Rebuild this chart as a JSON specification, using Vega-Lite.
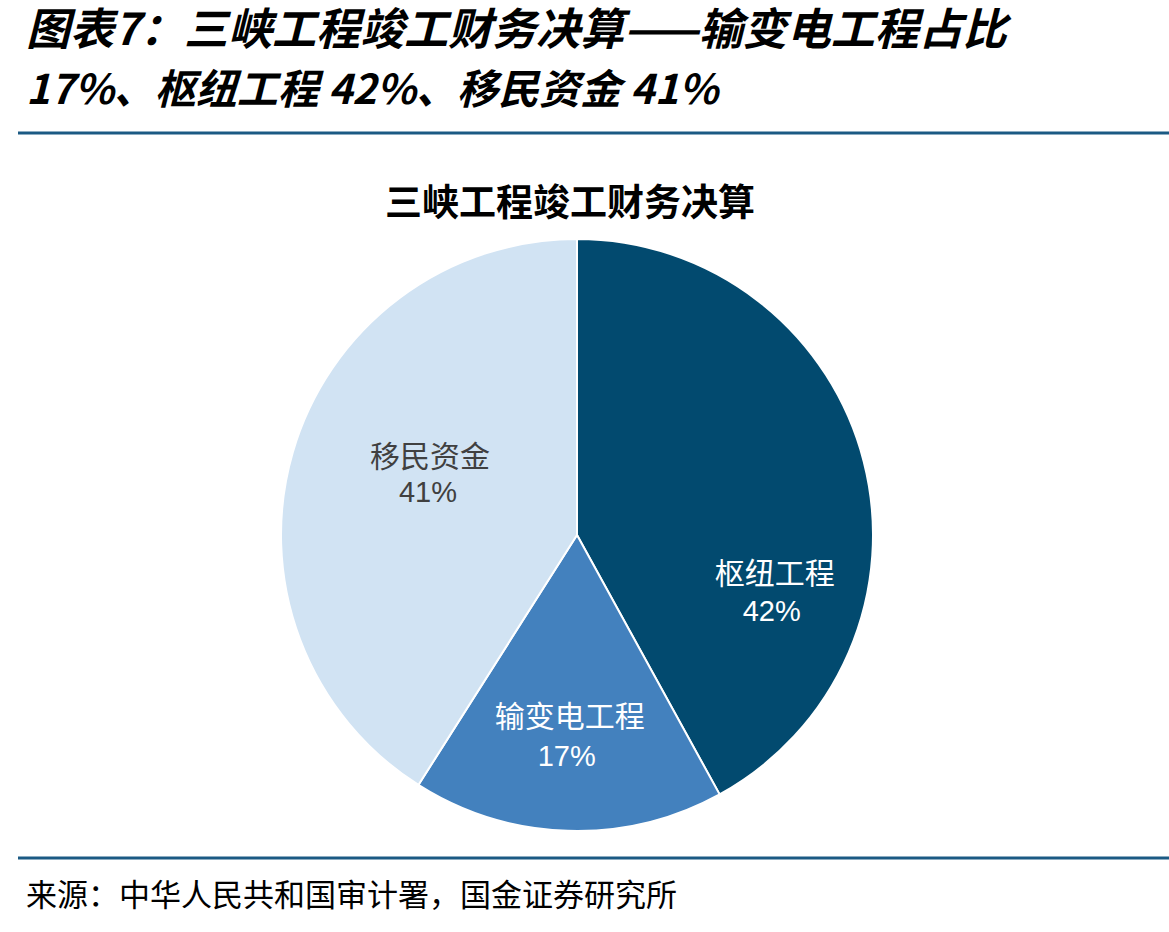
{
  "$schema": "https://vega.github.io/schema/vega-lite/v6.json",
  "autosize": "none",
  "width": 1154,
  "height": 794,
  "padding": {"left": 0, "right": 15, "top": 138, "bottom": 0},
  "background": "white",
  "config": {"view": {"stroke": null}},
  "data": {"values": [
    {"name": "枢纽工程", "value": 42, "pct": "42%", "rank": 1},
    {"name": "输变电工程", "value": 17, "pct": "17%", "rank": 2},
    {"name": "移民资金", "value": 41, "pct": "41%", "rank": 3}
  ]},
  "layer": [
    {
      "mark": {"type": "arc", "outerRadius": 296, "stroke": "white", "strokeWidth": 2},
      "encoding": {
        "theta": {"field": "value", "type": "quantitative", "stack": true},
        "order": {"field": "rank", "type": "quantitative"},
        "color": {"field": "name", "type": "nominal", "legend": null,
          "scale": {"domain": ["枢纽工程", "输变电工程", "移民资金"], "range": ["#024A6F", "#4381BE", "#D1E3F3"]}}
      }
    },
    {
      "mark": {"type": "text", "radius": 200, "font": "Noto Sans CJK SC", "fontSize": 30, "dx": 4, "dy": 90, "color": "white"},
      "encoding": {
        "theta": {"field": "value", "type": "quantitative", "stack": true},
        "order": {"field": "rank", "type": "quantitative"},
        "text": {"condition": {"test": "datum.name === '枢纽工程'", "field": "name", "type": "nominal"}, "value": ""}
      }
    },
    {
      "mark": {"type": "text", "radius": 200, "font": "Liberation Sans", "fontSize": 29, "dx": 1, "dy": 127, "color": "white"},
      "encoding": {
        "theta": {"field": "value", "type": "quantitative", "stack": true},
        "order": {"field": "rank", "type": "quantitative"},
        "text": {"condition": {"test": "datum.name === '枢纽工程'", "field": "pct", "type": "nominal"}, "value": ""}
      }
    },
    {
      "mark": {"type": "text", "radius": 200, "font": "Noto Sans CJK SC", "fontSize": 30, "dx": -1, "dy": -17, "color": "white"},
      "encoding": {
        "theta": {"field": "value", "type": "quantitative", "stack": true},
        "order": {"field": "rank", "type": "quantitative"},
        "text": {"condition": {"test": "datum.name === '输变电工程'", "field": "name", "type": "nominal"}, "value": ""}
      }
    },
    {
      "mark": {"type": "text", "radius": 200, "font": "Liberation Sans", "fontSize": 29, "dx": -4, "dy": 22, "color": "white"},
      "encoding": {
        "theta": {"field": "value", "type": "quantitative", "stack": true},
        "order": {"field": "rank", "type": "quantitative"},
        "text": {"condition": {"test": "datum.name === '输变电工程'", "field": "pct", "type": "nominal"}, "value": ""}
      }
    },
    {
      "mark": {"type": "text", "radius": 200, "font": "Noto Sans CJK SC", "fontSize": 30, "dx": 45, "dy": -21, "color": "#404040"},
      "encoding": {
        "theta": {"field": "value", "type": "quantitative", "stack": true},
        "order": {"field": "rank", "type": "quantitative"},
        "text": {"condition": {"test": "datum.name === '移民资金'", "field": "name", "type": "nominal"}, "value": ""}
      }
    },
    {
      "mark": {"type": "text", "radius": 200, "font": "Liberation Sans", "fontSize": 29, "dx": 43, "dy": 14, "color": "#404040"},
      "encoding": {
        "theta": {"field": "value", "type": "quantitative", "stack": true},
        "order": {"field": "rank", "type": "quantitative"},
        "text": {"condition": {"test": "datum.name === '移民资金'", "field": "pct", "type": "nominal"}, "value": ""}
      }
    },
    {
      "data": {"values": [{}]},
      "mark": {"type": "text", "font": "Noto Sans CJK SC", "fontSize": 44, "fontWeight": "bold", "fontStyle": "italic", "align": "left", "baseline": "middle", "color": "black"},
      "encoding": {
        "x": {"datum": 26, "type": "quantitative", "scale": {"domain": [0, 1154], "nice": false, "zero": false}, "axis": null},
        "y": {"datum": -106, "type": "quantitative", "scale": {"domain": [0, 794], "reverse": true, "nice": false, "zero": false}, "axis": null},
        "text": {"value": "图表7：三峡工程竣工财务决算——输变电工程占比"}
      }
    },
    {
      "data": {"values": [{}]},
      "mark": {"type": "text", "font": "Noto Sans CJK SC", "fontSize": 41, "fontWeight": "bold", "fontStyle": "italic", "align": "left", "baseline": "middle", "color": "black"},
      "encoding": {
        "x": {"datum": 26, "type": "quantitative", "scale": {"domain": [0, 1154], "nice": false, "zero": false}, "axis": null},
        "y": {"datum": -46, "type": "quantitative", "scale": {"domain": [0, 794], "reverse": true, "nice": false, "zero": false}, "axis": null},
        "text": {"value": "17%、枢纽工程 42%、移民资金 41%"}
      }
    },
    {
      "data": {"values": [{}]},
      "mark": {"type": "rule", "color": "#1B5A84", "strokeWidth": 3},
      "encoding": {
        "x": {"datum": 18, "type": "quantitative", "scale": {"domain": [0, 1154], "nice": false, "zero": false}, "axis": null},
        "x2": {"datum": 1169},
        "y": {"datum": -5, "type": "quantitative", "scale": {"domain": [0, 794], "reverse": true, "nice": false, "zero": false}, "axis": null}
      }
    },
    {
      "data": {"values": [{}]},
      "mark": {"type": "rule", "color": "#1B5A84", "strokeWidth": 3},
      "encoding": {
        "x": {"datum": 18, "type": "quantitative", "scale": {"domain": [0, 1154], "nice": false, "zero": false}, "axis": null},
        "x2": {"datum": 1169},
        "y": {"datum": 720, "type": "quantitative", "scale": {"domain": [0, 794], "reverse": true, "nice": false, "zero": false}, "axis": null}
      }
    },
    {
      "data": {"values": [{}]},
      "mark": {"type": "text", "font": "Noto Sans CJK SC", "fontSize": 37, "fontWeight": "bold", "align": "center", "baseline": "middle", "color": "black"},
      "encoding": {
        "x": {"datum": 570, "type": "quantitative", "scale": {"domain": [0, 1154], "nice": false, "zero": false}, "axis": null},
        "y": {"datum": 67, "type": "quantitative", "scale": {"domain": [0, 794], "reverse": true, "nice": false, "zero": false}, "axis": null},
        "text": {"value": "三峡工程竣工财务决算"}
      }
    },
    {
      "data": {"values": [{}]},
      "mark": {"type": "text", "font": "Noto Sans CJK SC", "fontSize": 31, "align": "left", "baseline": "middle", "color": "black"},
      "encoding": {
        "x": {"datum": 26, "type": "quantitative", "scale": {"domain": [0, 1154], "nice": false, "zero": false}, "axis": null},
        "y": {"datum": 759, "type": "quantitative", "scale": {"domain": [0, 794], "reverse": true, "nice": false, "zero": false}, "axis": null},
        "text": {"value": "来源：中华人民共和国审计署，国金证券研究所"}
      }
    }
  ]
}
